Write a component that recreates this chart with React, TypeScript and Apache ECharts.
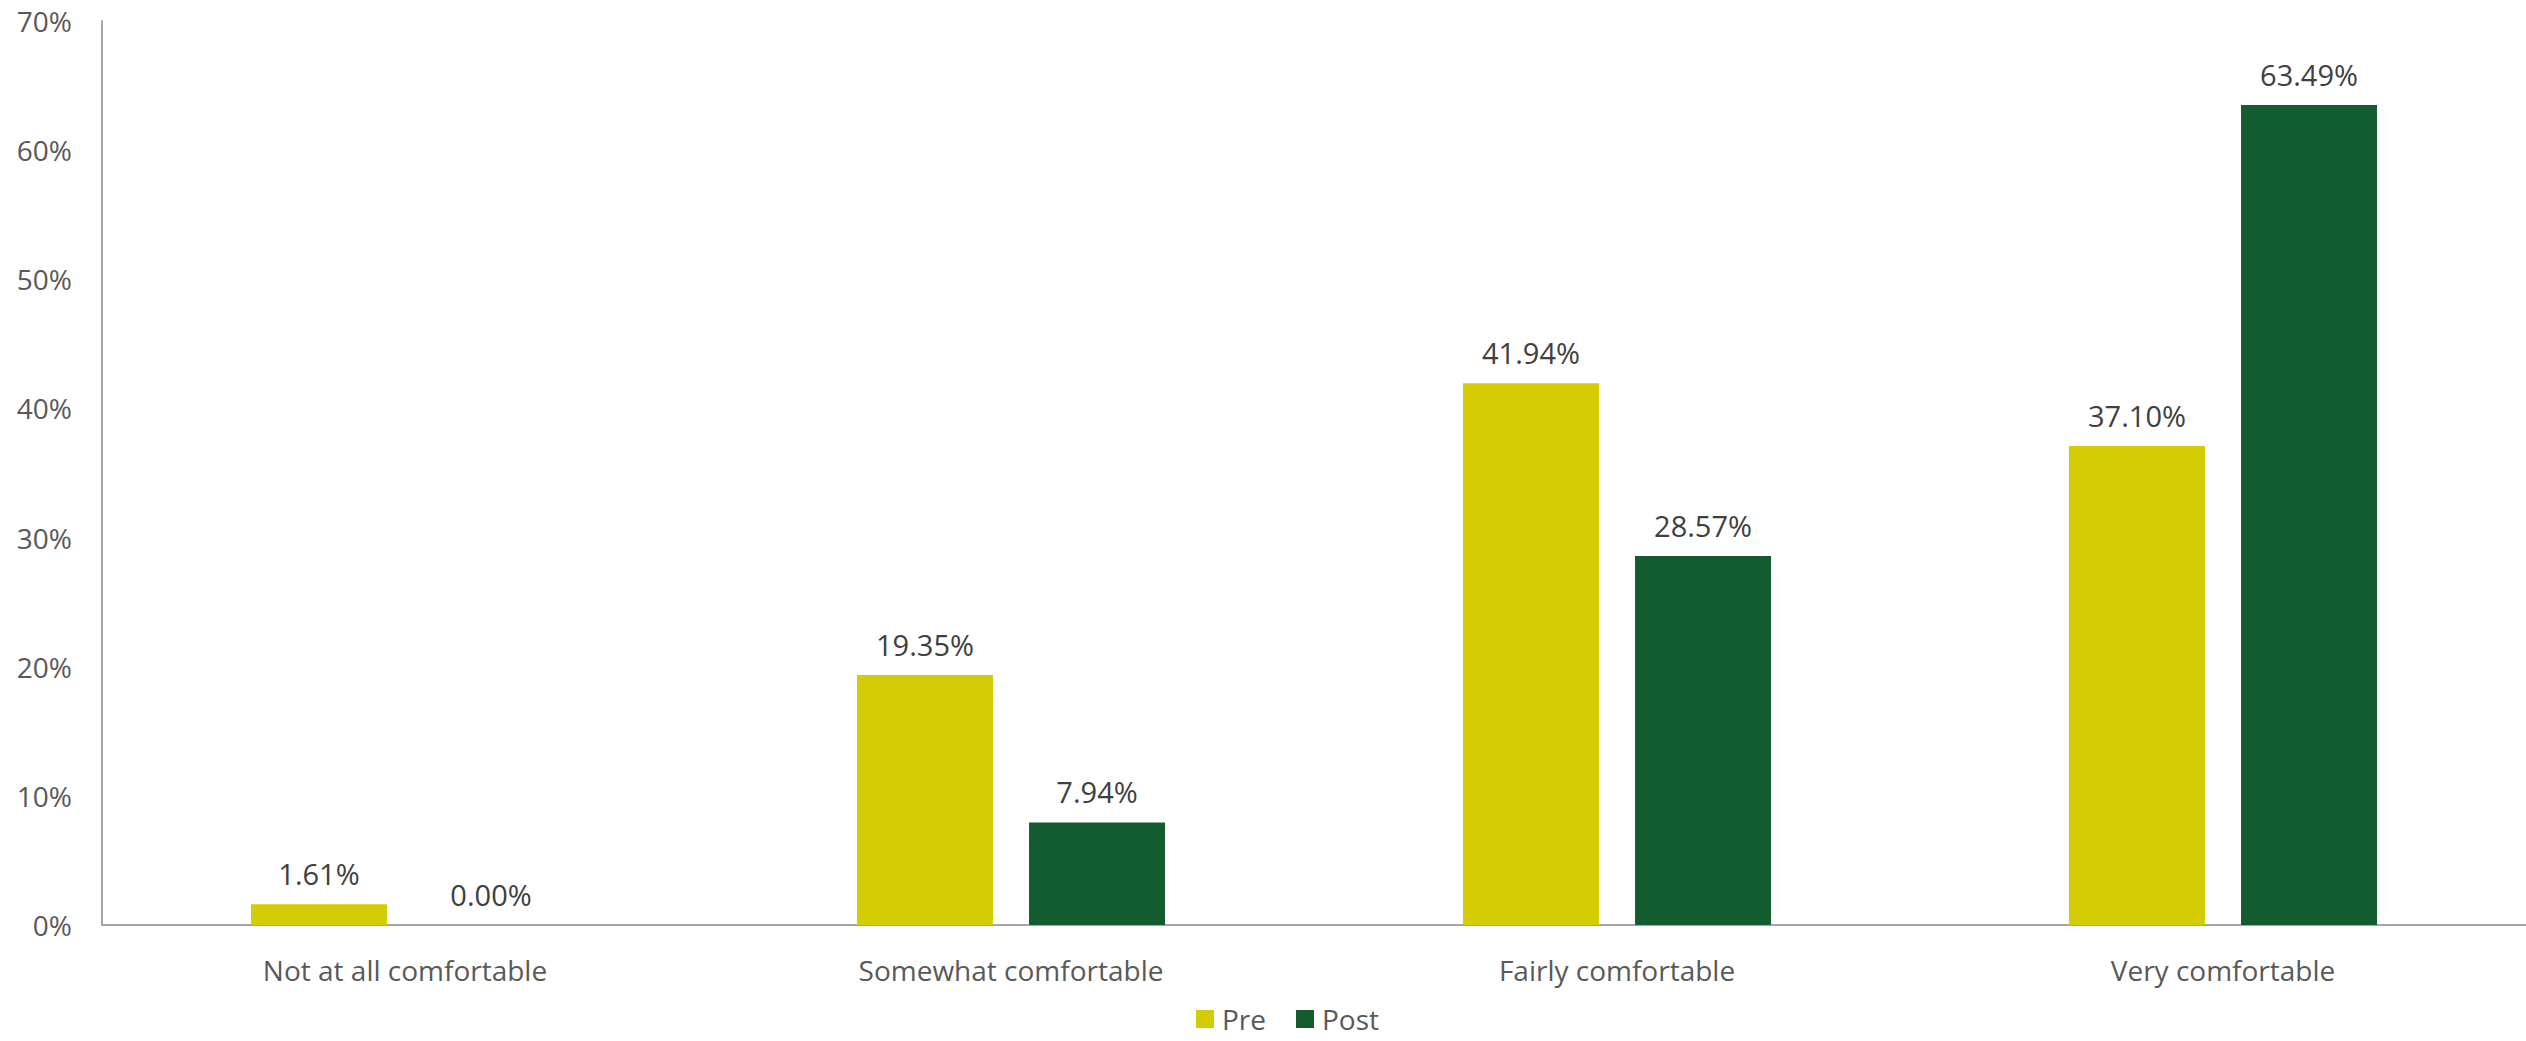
import React, { useEffect, useRef } from "react";
import * as echarts from "echarts";

const categories = ["Not at all comfortable", "Somewhat comfortable", "Fairly comfortable", "Very comfortable"];
const preValues = [1.61, 19.35, 41.94, 37.1];
const postValues = [0.0, 7.94, 28.57, 63.49];
const seriesNames = ["Pre", "Post"];

const FONT = "'Open Sans', 'Noto Sans', sans-serif";

export default function App() {
  const ref = useRef<HTMLDivElement>(null);
  useEffect(() => {
    if (!ref.current) return;
    const chart = echarts.init(ref.current, null, { renderer: "svg" });
    const labelCfg = {
      show: true,
      position: "top",
      distance: 16,
      color: "#404040",
      fontSize: 29,
      fontFamily: FONT,
      formatter: (p: any) => Number(p.value).toFixed(2) + "%",
    };
    chart.setOption({
      animation: false,
      textStyle: { fontFamily: FONT },
      grid: { left: 102, right: -5, top: 21, bottom: 116, containLabel: false },
      legend: {
        data: seriesNames,
        left: 1191,
        top: 1000,
        itemWidth: 18,
        itemHeight: 18,
        itemGap: 30,
        icon: "rect",
        textStyle: { fontSize: 28, lineHeight: 28, color: "#595959", fontFamily: FONT, padding: [0, 0, 0, 3] },
      },
      xAxis: {
        type: "category",
        data: categories,
        axisLine: { show: true, lineStyle: { color: "#A6A6A6", width: 2 } },
        axisTick: { show: false },
        axisLabel: { color: "#595959", fontSize: 28, fontFamily: FONT, margin: 31 },
      },
      yAxis: {
        type: "value",
        min: 0,
        max: 70,
        interval: 10,
        axisLine: { show: true, lineStyle: { color: "#A6A6A6", width: 2 } },
        axisTick: { show: false },
        splitLine: { show: false },
        axisLabel: { color: "#595959", fontSize: 28, fontFamily: FONT, margin: 30, formatter: "{value}%" },
      },
      series: [
        {
          name: seriesNames[0],
          type: "bar",
          data: preValues,
          barWidth: 136,
          barGap: "26.5%",
          itemStyle: { color: "#D4CD06" },
          label: labelCfg,
        },
        {
          name: seriesNames[1],
          type: "bar",
          data: postValues,
          barWidth: 136,
          barGap: "26.5%",
          itemStyle: { color: "#135C2F" },
          label: labelCfg,
        },
      ],
    });
    return () => chart.dispose();
  }, []);
  return (
    <div
      ref={ref}
      style={{ position: "absolute", left: 0, top: 0, width: 2526, height: 1041, background: "#fff" }}
    />
  );
}
